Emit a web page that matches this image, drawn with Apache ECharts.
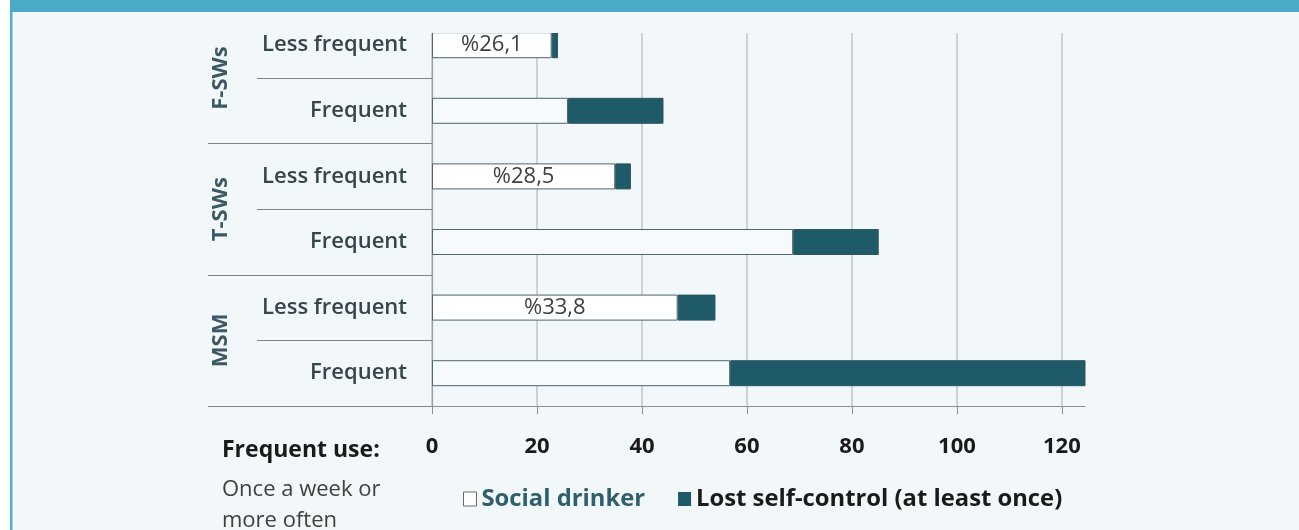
<!DOCTYPE html>
<html>
<head>
<meta charset="utf-8">
<script src="https://cdn.jsdelivr.net/npm/echarts@6/dist/echarts.min.js"></script>
<style>
    html, body { margin: 0; padding: 0; background: #fff; }
    #chart1 { width: 1299px; height: 530px; }
</style>
</head>
<body>
<div id="chart1"></div>
<script>
// 数据
var rowLabels = ['Less frequent', 'Frequent', 'Less frequent', 'Frequent', 'Less frequent', 'Frequent'];
var groups = ['F-SWs', 'T-SWs', 'MSM'];
var social = [22.8, 25.9, 34.9, 68.8, 46.8, 56.8];
var lost = [1.2, 18.2, 3.0, 16.3, 7.2, 68.0];
var pctLabels = ['%26,1', '', '%28,5', '', '%33,8', ''];
var xTicks = [0, 20, 40, 60, 80, 100, 120];

(function () {
    var myChart = echarts.init(document.querySelector("#chart1"));
    var font = 'Open Sans';
    var bg = '#f2f7fa';
    option = {
        backgroundColor: bg,
        animation: false,
        title: {
            left: 222,
            top: 437,
            padding: 0,
            text: 'Frequent use:',
            textStyle: {fontFamily: font, fontSize: 23, fontWeight: 'bold', color: '#1a1a1a', lineHeight: 26},
            subtext: 'Once a week or\nmore often',
            subtextStyle: {fontFamily: font, fontSize: 22, color: '#404040', lineHeight: 31},
            itemGap: 11
        },
        legend: {
            left: 463,
            top: 487,
            padding: 0,
            itemWidth: 13,
            itemHeight: 14,
            itemGap: 33,
            icon: 'rect',
            textStyle: {fontFamily: font, fontSize: 23.8, fontWeight: 'bold'},
            data: [
                {name: 'Social drinker', itemStyle: {color: '#ffffff', borderColor: '#6a6a6a', borderWidth: 1},
                    textStyle: {color: '#2e5f6c'}},
                {name: 'Lost self-control (at least once)', itemStyle: {color: '#1f5a68', borderWidth: 0},
                    textStyle: {color: '#1a1a1a'}}
            ]
        },
        grid: {
            left: 432,
            right: 214,
            top: 12.4,
            bottom: 124,
            outerBoundsMode: 'none'
        },
        xAxis: {
            type: 'value',
            min: 0,
            max: 124.4,
            axisLine: {show: true, lineStyle: {color: '#8a9092', width: 1.2}},
            axisTick: {show: true, length: 8, customValues: xTicks, lineStyle: {color: '#8a9092'}},
            axisLabel: {
                customValues: xTicks,
                margin: 30,
                fontFamily: font, fontSize: 22, fontWeight: 'bold', color: '#1a1a1a'
            },
            splitLine: {show: true, lineStyle: {color: '#c2c6c8', width: 1.5}}
        },
        yAxis: [
            {
                type: 'category',
                inverse: true,
                data: rowLabels,
                axisLine: {show: true, lineStyle: {color: '#9aa0a2', width: 1.2}},
                axisTick: {show: true, length: 175, interval: 0, lineStyle: {color: '#7e8587'}},
                axisLabel: {interval: 0, margin: 25, fontFamily: font, fontSize: 22, fontWeight: 600, color: '#37464b'},
                splitLine: {show: false}
            },
            {
                type: 'category',
                inverse: true,
                data: groups,
                position: 'left',
                axisLine: {show: false},
                axisTick: {show: true, length: 224, interval: 0, lineStyle: {color: '#7e8587'}},
                axisLabel: {interval: 0, rotate: 90, margin: 200, fontFamily: font, fontSize: 22,
                    fontWeight: 'bold', color: '#3d5963'},
                splitLine: {show: false}
            }
        ],
        series: [
            {
                name: 'Social drinker',
                type: 'bar',
                stack: 'a',
                yAxisIndex: 0,
                barWidth: 26,
                data: social,
                itemStyle: {
                    color: function (p) { return p.dataIndex % 2 ? '#f6fafc' : '#ffffff'; },
                    borderColor: '#4e666e',
                    borderWidth: 1
                },
                label: {
                    show: true,
                    position: 'inside',
                    fontFamily: font,
                    fontSize: 22,
                    color: '#404040',
                    formatter: function (p) { return pctLabels[p.dataIndex]; }
                }
            },
            {
                name: 'Lost self-control (at least once)',
                type: 'bar',
                stack: 'a',
                yAxisIndex: 0,
                barWidth: 26,
                data: lost,
                itemStyle: {color: '#1f5a68', borderColor: '#2b5560', borderWidth: 1}
            }
        ],
        graphic: [
            // 上方被裁掉的部分
            {type: 'rect', z: 50, shape: {x: 200, y: 10, width: 900, height: 23}, style: {fill: bg}},
            {type: 'rect', z: 100, shape: {x: 0, y: 0, width: 10, height: 530}, style: {fill: '#ffffff'}},
            {type: 'rect', z: 100, shape: {x: 10, y: 0, width: 2.5, height: 530}, style: {fill: '#4fb1c9'}},
            {type: 'rect', z: 100, shape: {x: 10, y: 0, width: 1289, height: 12}, style: {fill: '#4aabc6'}}
        ]
    };
    myChart.setOption(option);
    window.addEventListener("resize", function () {
        myChart.resize();
    });
})();
</script>
</body>
</html>
